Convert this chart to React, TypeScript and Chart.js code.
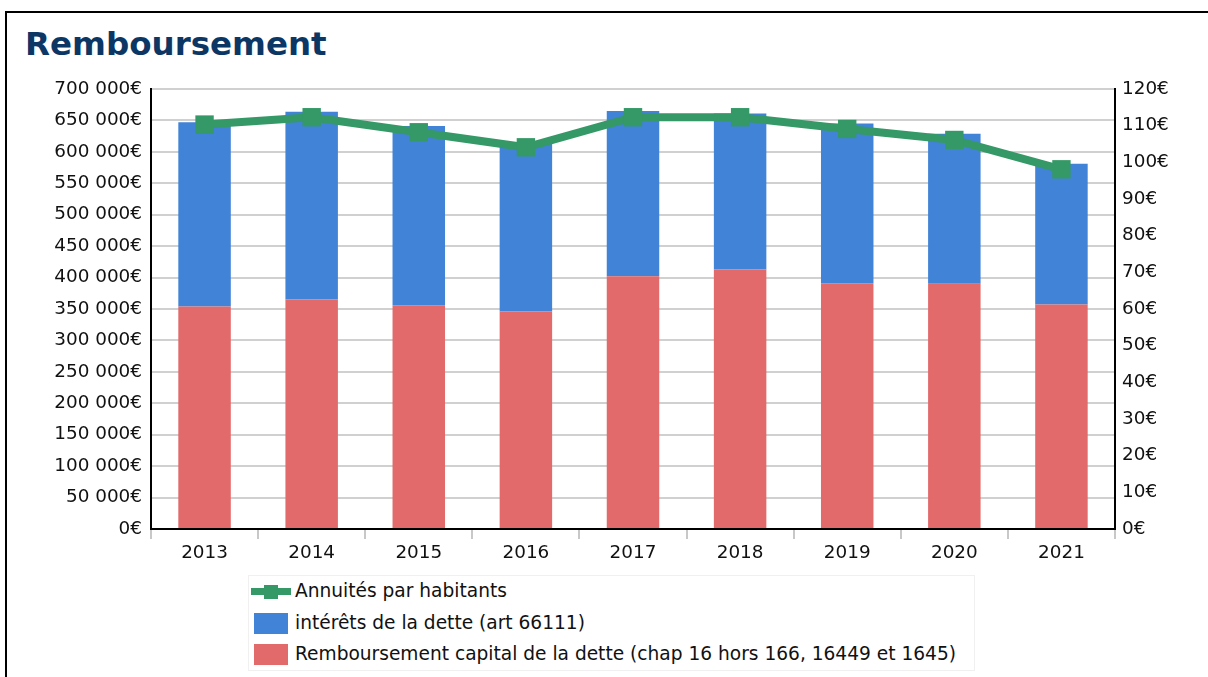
import React, { useEffect, useRef } from 'react';
import { Chart, registerables } from 'chart.js';

Chart.register(...registerables);

const years = ['2013', '2014', '2015', '2016', '2017', '2018', '2019', '2020', '2021'];
const capital = [354000, 365000, 356000, 346000, 402000, 413000, 391000, 390000, 357000];
const interets = [293000, 299000, 285000, 269000, 263000, 248000, 254000, 239000, 224000];
const annuites = [110.3, 112.3, 108.2, 104.1, 112.3, 112.3, 109.1, 106.1, 98.1];

const labelAnnuites = 'Annuités par habitants';
const labelInterets = 'intérêts de la dette (art 66111)';
const labelCapital = 'Remboursement capital de la dette (chap 16 hors 166, 16449 et 1645)';

const GREEN = '#349966';
const BLUE = '#4183d7';
const RED = '#e26a6a';
const FONT = 'DejaVu Sans';

function fmtEuro(v: number): string {
  return String(v).replace(/\B(?=(\d{3})+(?!\d))/g, ' ') + '€';
}

export default function App() {
  const ref = useRef<HTMLCanvasElement | null>(null);

  useEffect(() => {
    if (!ref.current) return;
    const tickFont = { family: FONT, size: 18.4 };
    const chart = new Chart(ref.current, {
      type: 'bar',
      data: {
        labels: years,
        datasets: [
          {
            type: 'line',
            label: labelAnnuites,
            data: annuites,
            yAxisID: 'y1',
            borderColor: GREEN,
            backgroundColor: GREEN,
            borderWidth: 8,
            pointStyle: 'rect',
            pointRadius: 13,
            pointHoverRadius: 13,
            pointBorderWidth: 0,
            pointBackgroundColor: GREEN,
            tension: 0,
            order: 0,
          } as any,
          {
            type: 'bar',
            label: labelCapital,
            data: capital,
            yAxisID: 'y',
            backgroundColor: RED,
            borderWidth: 0,
            barPercentage: 0.49,
            categoryPercentage: 1,
            order: 1,
          },
          {
            type: 'bar',
            label: labelInterets,
            data: interets,
            yAxisID: 'y',
            backgroundColor: BLUE,
            borderWidth: 0,
            barPercentage: 0.49,
            categoryPercentage: 1,
            order: 2,
          },
        ],
      },
      options: {
        responsive: false,
        animation: false,
        devicePixelRatio: 1,
        layout: { padding: { top: 29, left: 0, right: 0, bottom: 0 } },
        plugins: {
          legend: { display: false },
          tooltip: { enabled: false },
          title: { display: false },
        },
        scales: {
          x: {
            stacked: true,
            grid: {
              offset: true,
              drawOnChartArea: false,
              drawTicks: true,
              tickLength: 10,
              color: '#c8c8c8',
              lineWidth: 2,
            },
            border: { display: true, color: '#000', width: 2 },
            ticks: { color: '#111', font: tickFont, padding: 3 },
            afterFit: (s: any) => {
              s.height = 40;
            },
          },
          y: {
            position: 'left',
            stacked: true,
            min: 0,
            max: 700000,
            ticks: {
              stepSize: 50000,
              color: '#111',
              font: tickFont,
              padding: 9,
              callback: (v: any) => fmtEuro(Number(v)),
            },
            grid: { color: '#d0d0d0', lineWidth: 2, drawTicks: false },
            border: { display: true, color: '#000', width: 2 },
            afterFit: (s: any) => {
              s.width = 151;
            },
          },
          y1: {
            position: 'right',
            min: 0,
            max: 120,
            ticks: {
              stepSize: 10,
              color: '#111',
              font: tickFont,
              padding: 7,
              callback: (v: any) => v + '€',
            },
            grid: { drawOnChartArea: false, drawTicks: false },
            border: { display: true, color: '#000', width: 2 },
            afterFit: (s: any) => {
              s.width = 93;
            },
          },
        },
      },
    });
    return () => chart.destroy();
  }, []);

  const legendText: React.CSSProperties = {
    fontFamily: FONT,
    fontSize: 18.6,
    color: '#111',
    whiteSpace: 'nowrap',
    lineHeight: 1,
  };
  const row: React.CSSProperties = {
    height: 31.5,
    display: 'flex',
    alignItems: 'center',
    position: 'relative',
  };

  return (
    <div
      style={{
        position: 'fixed',
        left: 0,
        top: 0,
        width: 1208,
        height: 677,
        overflow: 'hidden',
        background: '#fff',
      }}
    >
      <div
        style={{
          position: 'absolute',
          left: 5,
          top: 11,
          width: 1400,
          height: 900,
          border: '2px solid #000',
          boxSizing: 'border-box',
        }}
      />
      <div
        style={{
          position: 'absolute',
          left: 25,
          top: 28,
          fontFamily: FONT,
          fontWeight: 'bold',
          fontSize: 32.5,
          lineHeight: 1,
          color: '#0c3765',
          whiteSpace: 'nowrap',
        }}
      >
        Remboursement
      </div>
      <canvas
        ref={ref}
        width={1208}
        height={509}
        style={{ position: 'absolute', left: 0, top: 60, width: 1208, height: 509 }}
      />
      <div
        style={{
          position: 'absolute',
          left: 248,
          top: 575,
          width: 727,
          height: 96,
          border: '1px solid #f0f0f0',
          boxSizing: 'border-box',
        }}
      >
        <div style={row}>
          <div style={{ position: 'absolute', left: 2, width: 40, height: 7, background: GREEN, top: 12 }} />
          <div style={{ position: 'absolute', left: 15, width: 14, height: 14, background: GREEN, top: 8.5 }} />
          <span style={{ ...legendText, marginLeft: 46 }}>{labelAnnuites}</span>
        </div>
        <div style={row}>
          <div style={{ position: 'absolute', left: 5, width: 34, height: 21, background: BLUE, top: 5 }} />
          <span style={{ ...legendText, marginLeft: 46 }}>{labelInterets}</span>
        </div>
        <div style={row}>
          <div style={{ position: 'absolute', left: 5, width: 34, height: 21, background: RED, top: 5 }} />
          <span style={{ ...legendText, marginLeft: 46 }}>{labelCapital}</span>
        </div>
      </div>
    </div>
  );
}
